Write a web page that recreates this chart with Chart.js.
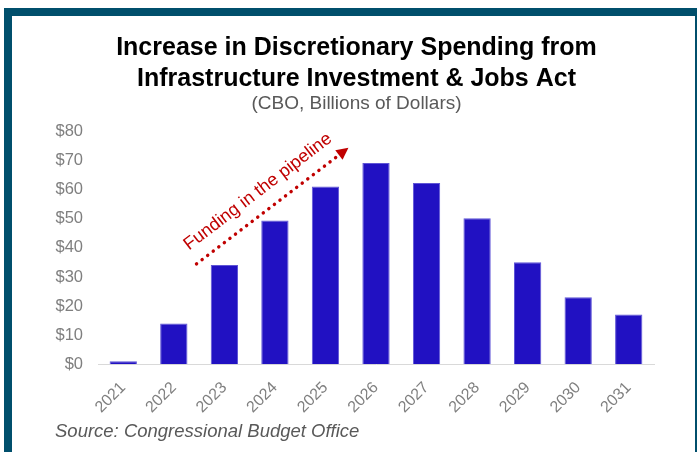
<!DOCTYPE html>
<html>
<head>
<meta charset="utf-8">
<script src="https://cdn.jsdelivr.net/npm/chart.js@4"></script>
<style>
  html, body { margin: 0; padding: 0; background: #fff; }
  #wrap { position: relative; width: 698px; height: 452px; }
  #frame {
    position: absolute; left: 4px; top: 8px; width: 683px; height: 460px;
    border-top: 8px solid #004f6c; border-left: 8px solid #004f6c; border-right: 2px solid #004f6c;
    pointer-events: none;
  }
</style>
</head>
<body>
<div id="wrap">
  <canvas id="myChart" width="698" height="452"></canvas>
  <div id="frame"></div>
</div>
<script>
// CBO estimates, billions of dollars
const years = ['2021', '2022', '2023', '2024', '2025', '2026', '2027', '2028', '2029', '2030', '2031']
const spending = [1.0, 14.0, 34.1, 49.4, 61.1, 69.2, 62.3, 50.2, 35.1, 23.0, 17.1]
const yTicks = [0, 10, 20, 30, 40, 50, 60, 70, 80]

const FONT = "'Liberation Sans', Arial, sans-serif"

// dotted red arrow + label, anchored in data space (category index, $bn)
const arrowFrom = { x: 1.45, y: 34.5 }
const arrowTo = { x: 4.455, y: 74.4 }
const arrowLabel = 'Funding in the pipeline'
const sourceNote = 'Source: Congressional Budget Office'

const annotationPlugin = {
  id: 'pipelineArrow',
  afterDatasetsDraw(chart) {
    const { ctx, scales: { x, y } } = chart
    const x0 = x.getPixelForValue(arrowFrom.x), y0 = y.getPixelForValue(arrowFrom.y)
    const x1 = x.getPixelForValue(arrowTo.x), y1 = y.getPixelForValue(arrowTo.y)
    const ang = Math.atan2(y1 - y0, x1 - x0)
    const len = Math.hypot(x1 - x0, y1 - y0)
    const red = '#c00000'

    ctx.save()
    ctx.translate(x0, y0)
    ctx.rotate(ang)

    // dots
    ctx.strokeStyle = red
    ctx.lineWidth = 3.5
    ctx.lineCap = 'round'
    ctx.setLineDash([0, 7])
    ctx.beginPath()
    ctx.moveTo(0, 0)
    ctx.lineTo(len - 10, 0)
    ctx.stroke()
    ctx.setLineDash([])

    // head
    ctx.fillStyle = red
    ctx.beginPath()
    ctx.moveTo(len, 0)
    ctx.lineTo(len - 12, -6)
    ctx.lineTo(len - 12, 6)
    ctx.closePath()
    ctx.fill()

    // label
    ctx.font = '18px ' + FONT
    ctx.textAlign = 'left'
    ctx.textBaseline = 'alphabetic'
    ctx.fillText(arrowLabel, 2, -15)
    ctx.restore()
  },
  afterDraw(chart) {
    const { ctx } = chart
    ctx.save()
    ctx.font = 'italic 18.5px ' + FONT
    ctx.fillStyle = '#595959'
    ctx.textAlign = 'left'
    ctx.textBaseline = 'alphabetic'
    ctx.fillText(sourceNote, 55, 436.5)
    ctx.restore()
  }
}

const data = {
  labels: years,
  datasets: [{
    label: 'Discretionary spending',
    data: spending,
    backgroundColor: '#2111c2',
    borderColor: '#5f55d6',
    borderWidth: 1,
    barPercentage: 0.54,
    categoryPercentage: 1.0
  }]
}

const config = {
  type: 'bar',
  data,
  options: {
    responsive: false,
    animation: false,
    // uneven side pads put the title a bit right of the canvas middle;
    // the empty right axis gives the plot back its right margin
    layout: { padding: { left: 52, right: 37, top: 0, bottom: 29 } },
    plugins: {
      legend: { display: false },
      tooltip: { enabled: false },
      title: {
        display: true,
        text: ['Increase in Discretionary Spending from', 'Infrastructure Investment & Jobs Act'],
        color: '#000',
        font: { family: FONT, size: 25, weight: 'bold', lineHeight: 1.25 },
        padding: { top: 32, bottom: 0 }
      },
      subtitle: {
        display: true,
        text: '(CBO, Billions of Dollars)',
        color: '#595959',
        font: { family: FONT, size: 19, lineHeight: 1.0 },
        padding: { top: 0, bottom: 18 }
      }
    },
    scales: {
      x: {
        grid: { display: false },
        border: { display: true, color: '#d9d9d9', width: 1 },
        ticks: {
          color: '#7f7f7f',
          font: { family: FONT, size: 16 },
          maxRotation: 45,
          minRotation: 45,
          padding: 6
        }
      },
      y: {
        min: yTicks[0],
        max: yTicks[yTicks.length - 1],
        grid: { display: false, drawTicks: false },
        border: { display: false },
        afterBuildTicks(scale) {
          scale.ticks = yTicks.map(v => ({ value: v }))
        },
        afterFit(scale) {
          scale.width = 46
        },
        ticks: {
          color: '#7f7f7f',
          font: { family: FONT, size: 16.5 },
          padding: 15,
          callback: v => '$' + v
        }
      },
      yRight: {
        position: 'right',
        display: true,
        grid: { display: false, drawTicks: false },
        border: { display: false },
        ticks: { display: false },
        afterFit(scale) {
          scale.width = 7
        }
      }
    }
  },
  plugins: [annotationPlugin]
}

const myChart = new Chart(document.getElementById('myChart'), config)
</script>
</body>
</html>
